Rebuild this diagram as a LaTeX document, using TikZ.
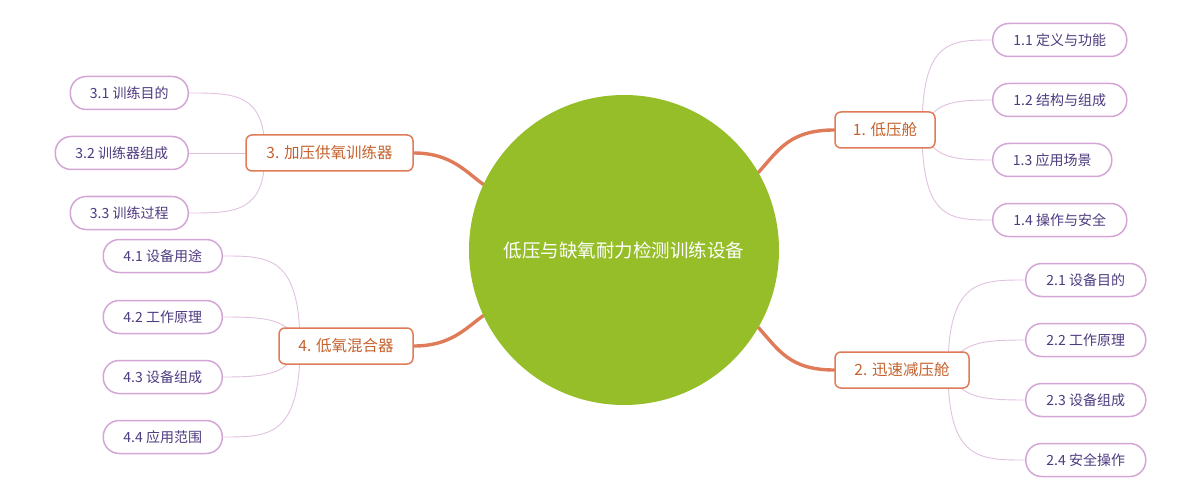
\documentclass[tikz,border=0pt]{standalone}
\usepackage{fontspec}
\setmainfont{Noto Sans CJK SC}
\definecolor{rootgreen}{HTML}{95BE28}
\definecolor{mainline}{HTML}{E07B5A}
\definecolor{lvlonetext}{HTML}{C4622D}
\definecolor{lvltwoborder}{HTML}{D4A6D6}
\definecolor{lvltwotext}{HTML}{4F3B80}
\definecolor{thinline}{HTML}{DFC2DF}
\pgfdeclarelayer{bg}
\pgfsetlayers{bg,main}
\tikzset{
  rootnode/.style={circle, fill=rootgreen, minimum size=310pt, inner sep=0pt, text=white, font=\fontsize{18.5}{22}\selectfont},
  lvlone/.style={draw=mainline, line width=1.5pt, rounded corners=6pt, fill=white, minimum height=36pt, inner sep=0pt, text=lvlonetext, font=\fontsize{15.5}{19}\selectfont},
  lvltwo/.style={draw=lvltwoborder, line width=1.5pt, rounded corners=16pt, fill=white, minimum height=33pt, inner sep=0pt, text=lvltwotext, font=\fontsize{14}{17}\selectfont},
  mainconn/.style={draw=mainline, line width=3.4pt, line cap=round},
  thinconn/.style={draw=thinline, line width=0.9pt}
}
\begin{document}
\begin{tikzpicture}[x=1pt,y=-1pt]
\useasboundingbox (0,0) rectangle (1200,500);
% root
\node[rootnode] (root) at (624,250) {低压与缺氧耐力检测训练设备};
% level one
\node[lvlone, minimum width=100pt] (n1) at (885,130) {1. 低压舱};
\node[lvlone, minimum width=134pt] (n2) at (902,370) {2. 迅速减压舱};
\node[lvlone, minimum width=167pt] (n3) at (329.5,153) {3. 加压供氧训练器};
\node[lvlone, minimum width=134pt] (n4) at (346,346) {4. 低氧混合器};
% level two, group 1
\node[lvltwo, anchor=west, minimum width=134pt] (c11) at (992,40) {1.1 定义与功能};
\node[lvltwo, anchor=west, minimum width=134pt] (c12) at (992,100) {1.2 结构与组成};
\node[lvltwo, anchor=west, minimum width=119pt] (c13) at (992,160) {1.3 应用场景};
\node[lvltwo, anchor=west, minimum width=134pt] (c14) at (992,220) {1.4 操作与安全};
% group 2
\node[lvltwo, anchor=west, minimum width=120pt] (c21) at (1025,280) {2.1 设备目的};
\node[lvltwo, anchor=west, minimum width=120pt] (c22) at (1025,340) {2.2 工作原理};
\node[lvltwo, anchor=west, minimum width=120pt] (c23) at (1025,400) {2.3 设备组成};
\node[lvltwo, anchor=west, minimum width=120pt] (c24) at (1025,460) {2.4 安全操作};
% group 3
\node[lvltwo, anchor=east, minimum width=118pt] (c31) at (189,93) {3.1 训练目的};
\node[lvltwo, anchor=east, minimum width=133pt] (c32) at (189,153) {3.2 训练器组成};
\node[lvltwo, anchor=east, minimum width=118pt] (c33) at (189,213) {3.3 训练过程};
% group 4
\node[lvltwo, anchor=east, minimum width=119pt] (c41) at (223,256) {4.1 设备用途};
\node[lvltwo, anchor=east, minimum width=119pt] (c42) at (223,317) {4.2 工作原理};
\node[lvltwo, anchor=east, minimum width=119pt] (c43) at (223,377) {4.3 设备组成};
\node[lvltwo, anchor=east, minimum width=119pt] (c44) at (223,437) {4.4 应用范围};
% branch points
\coordinate (r1) at (922,130);
\coordinate (r2) at (948,370);
\coordinate (r3) at (265,153);
\coordinate (r4) at (300,346);
\begin{pgfonlayer}{bg}
  \draw[mainconn] (root.30) .. controls +(20,-22) and +(-45,0) .. (n1.west);
  \draw[mainconn] (root.-30) .. controls +(20,22) and +(-45,0) .. (n2.west);
  \draw[mainconn] (root.155) .. controls +(-18,-13) and +(37,0) .. (n3.east);
  \draw[mainconn] (root.205) .. controls +(-18,13) and +(37,0) .. (n4.east);
  % group 1
  \draw[thinconn] (r1) .. controls +(0,-90) and +(-42,0) .. (c11.west);
  \draw[thinconn] (r1) .. controls +(12,-27) and +(-42,0) .. (c12.west);
  \draw[thinconn] (r1) .. controls +(12,27) and +(-42,0) .. (c13.west);
  \draw[thinconn] (r1) .. controls +(0,90) and +(-42,0) .. (c14.west);
  % group 2
  \draw[thinconn] (r2) .. controls +(0,-90) and +(-46,0) .. (c21.west);
  \draw[thinconn] (r2) .. controls +(12,-27) and +(-46,0) .. (c22.west);
  \draw[thinconn] (r2) .. controls +(12,27) and +(-46,0) .. (c23.west);
  \draw[thinconn] (r2) .. controls +(0,90) and +(-46,0) .. (c24.west);
  % group 3
  \draw[thinconn] (r3) .. controls +(0,-60) and +(46,0) .. (c31.east);
  \draw[thinconn] (r3) -- (c32.east);
  \draw[thinconn] (r3) .. controls +(0,60) and +(46,0) .. (c33.east);
  % group 4
  \draw[thinconn] (r4) .. controls +(0,-90) and +(46,0) .. (c41.east);
  \draw[thinconn] (r4) .. controls +(-12,-27) and +(46,0) .. (c42.east);
  \draw[thinconn] (r4) .. controls +(-12,28) and +(46,0) .. (c43.east);
  \draw[thinconn] (r4) .. controls +(0,91) and +(46,0) .. (c44.east);
\end{pgfonlayer}
\end{tikzpicture}
\end{document}
